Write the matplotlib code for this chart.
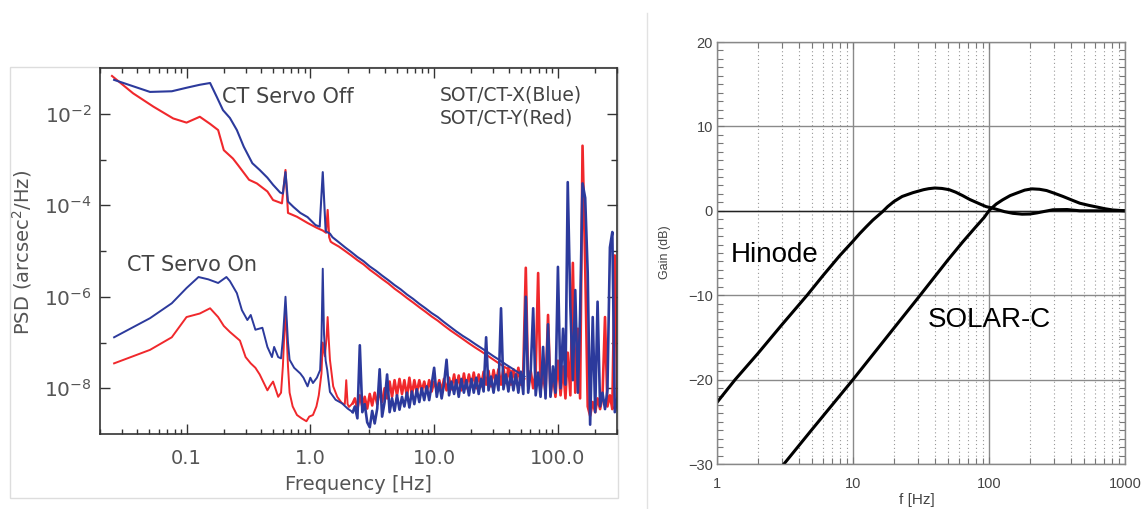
import numpy as np
import matplotlib
matplotlib.use("Agg")
import matplotlib.pyplot as plt
from matplotlib.ticker import FixedLocator, LogLocator, MultipleLocator, NullFormatter
from matplotlib.lines import Line2D
from matplotlib.patches import Rectangle

plt.rcParams['mathtext.default'] = 'regular'

# ---------------- left panel: SOT/CT pointing PSD ----------------
# CT servo off, X (blue)
off_x_f = [0.026, 0.035, 0.0507, 0.076, 0.10, 0.128, 0.155, 0.176, 0.197, 0.224,
           0.255, 0.29, 0.34, 0.39, 0.45, 0.50, 0.57, 0.60, 0.63, 0.66,
           0.73, 0.83, 0.95, 1.1, 1.19, 1.26, 1.33, 1.44]
off_x_psd = [5.5e-2, 4.2e-2, 3.0e-2, 3.1e-2, 3.7e-2, 4.3e-2, 4.7e-2, 2.3e-2, 1.2e-2, 8.1e-3,
             4.4e-3, 1.9e-3, 8.3e-4, 5.9e-4, 4.0e-4, 2.8e-4, 1.9e-4, 1.8e-4, 5.3e-4, 1.2e-4,
             9.2e-5, 6.8e-5, 5.5e-5, 3.7e-5, 3.4e-5, 5.3e-4, 2.7e-5, 2.4e-5]
# CT servo off, Y (red)
off_y_f = [0.025, 0.037, 0.054, 0.078, 0.10, 0.128, 0.155, 0.18, 0.20, 0.237,
           0.26, 0.32, 0.37, 0.45, 0.50, 0.59, 0.63, 0.66, 0.78, 0.95,
           1.13, 1.26, 1.34, 1.38, 1.42, 1.46]
off_y_psd = [6.7e-2, 2.8e-2, 1.43e-2, 7.9e-3, 6.4e-3, 8.6e-3, 6.0e-3, 4.4e-3, 1.6e-3, 1.05e-3,
             7.6e-4, 3.6e-4, 3.0e-4, 2.0e-4, 1.3e-4, 1.1e-4, 5.9e-4, 6.8e-5, 5.6e-5, 4.1e-5,
             3.2e-5, 2.8e-5, 2.5e-5, 7.9e-5, 2.0e-5, 1.6e-5]
# servo off high-frequency straight part (shared frequencies)
tail_f = [1.51, 1.70, 1.91, 2.14, 2.40, 2.69, 3.02, 3.39, 3.80, 4.27,
          4.79, 5.37, 6.03, 6.76, 7.59, 8.51, 9.55, 10.7, 12.0, 13.5,
          15.1, 17.0, 19.1, 21.4, 24.0, 26.9, 30.2, 33.9, 38.0, 42.7,
          47.9, 53.7]
tail_x_psd = [2.0e-5, 1.55e-5, 1.2e-5, 9.5e-6, 7.4e-6, 6.0e-6, 4.6e-6, 3.7e-6, 2.9e-6, 2.3e-6,
              1.8e-6, 1.45e-6, 1.12e-6, 9.0e-7, 7.0e-7, 5.6e-7, 4.4e-7, 3.6e-7, 2.8e-7, 2.2e-7,
              1.75e-7, 1.4e-7, 1.15e-7, 9.3e-8, 7.6e-8, 6.2e-8, 5.0e-8, 4.1e-8, 3.3e-8, 2.7e-8,
              2.2e-8, 1.8e-8]
tail_y_psd = [1.5e-5, 1.25e-5, 1.0e-5, 8.0e-6, 6.3e-6, 5.1e-6, 3.9e-6, 3.1e-6, 2.45e-6, 1.95e-6,
              1.5e-6, 1.2e-6, 9.4e-7, 7.5e-7, 5.9e-7, 4.7e-7, 3.7e-7, 3.0e-7, 2.35e-7, 1.85e-7,
              1.5e-7, 1.2e-7, 9.6e-8, 7.8e-8, 6.4e-8, 5.2e-8, 4.2e-8, 3.4e-8, 2.8e-8, 2.3e-8,
              1.9e-8, 1.6e-8]

# CT servo on, X (blue), low frequencies
on_x_f = [0.026, 0.0507, 0.076, 0.10, 0.125, 0.15, 0.18, 0.21, 0.224, 0.255,
          0.28, 0.31, 0.33, 0.36, 0.41, 0.45, 0.49, 0.51, 0.55, 0.58,
          0.60, 0.63, 0.66, 0.68, 0.74, 0.83, 0.88, 0.95, 1.0, 1.05,
          1.13, 1.2, 1.23, 1.26, 1.29, 1.33, 1.37, 1.44, 1.6, 1.8,
          2.0, 2.2]
on_x_psd = [1.3e-7, 3.4e-7, 7.2e-7, 1.55e-6, 2.7e-6, 2.4e-6, 2.0e-6, 2.7e-6, 2.2e-6, 1.2e-6,
            5.1e-7, 3.1e-7, 4.0e-7, 1.9e-7, 2.1e-7, 8.0e-8, 4.8e-8, 8.0e-8, 4.8e-8, 4.5e-8,
            1.2e-7, 1.0e-6, 1.0e-7, 4.2e-8, 2.8e-8, 2.1e-8, 1.7e-8, 1.1e-8, 1.7e-8, 1.3e-8,
            1.7e-8, 2.5e-8, 1.2e-7, 4.1e-6, 1.5e-7, 4.0e-8, 2.5e-8, 8.3e-9, 5.6e-9, 4.7e-9,
            3.6e-9, 3.0e-9]
# CT servo on, Y (red), low frequencies
on_y_f = [0.026, 0.0507, 0.076, 0.10, 0.128, 0.155, 0.18, 0.20, 0.224, 0.27,
          0.30, 0.33, 0.36, 0.39, 0.45, 0.47, 0.50, 0.55, 0.58, 0.60,
          0.63, 0.66, 0.68, 0.72, 0.78, 0.85, 0.93, 0.98, 1.05, 1.12,
          1.17, 1.23, 1.26, 1.31, 1.35, 1.38, 1.41, 1.44, 1.53, 1.65,
          1.8, 1.9, 1.95, 2.0, 2.05, 2.2]
on_y_psd = [3.5e-8, 6.9e-8, 1.3e-7, 3.6e-7, 4.3e-7, 5.6e-7, 3.6e-7, 2.3e-7, 1.7e-7, 1.1e-7,
            4.8e-8, 3.5e-8, 2.8e-8, 2.0e-8, 9.0e-9, 1.1e-8, 1.4e-8, 6.5e-9, 8.0e-9, 3.0e-8,
            6.0e-7, 3.0e-8, 8.0e-9, 4.0e-9, 2.6e-9, 2.2e-9, 1.9e-9, 2.4e-9, 2.6e-9, 4.0e-9,
            7.0e-9, 2.1e-8, 1.0e-7, 5.0e-8, 1.2e-7, 3.6e-7, 1.1e-7, 4.2e-8, 1.1e-8, 6.5e-9,
            4.7e-9, 4.5e-9, 1.5e-8, 4.5e-9, 3.9e-9, 4.7e-9]
# servo on noise floor above ~2 Hz (shared frequencies)
noise_f = [2.29, 2.40, 2.51, 2.63, 2.75, 2.88, 3.02, 3.16, 3.31, 3.47,
           3.63, 3.80, 3.98, 4.17, 4.37, 4.57, 4.79, 5.01, 5.25, 5.50,
           5.75, 6.03, 6.31, 6.61, 6.92, 7.24, 7.59, 7.94, 8.32, 8.71,
           9.12, 9.55, 10.0, 10.5, 11.0, 11.5, 12.0, 12.6, 13.2, 13.8,
           14.5, 15.1, 15.8, 16.6, 17.4, 18.2, 19.1, 20.0, 20.9, 21.9,
           22.9, 24.0, 25.1, 26.3, 27.5, 28.8, 30.2, 31.6, 33.1, 34.7,
           36.3, 38.0, 39.8, 41.7, 43.7, 45.7, 47.9, 50.1, 52.5, 55.0,
           57.5, 60.3, 63.1, 66.1, 69.2, 72.4, 75.9, 79.4, 83.2, 87.1,
           91.2, 95.5, 100, 105, 110, 115, 120, 126, 132, 138,
           145, 151, 158, 166, 174, 182, 191, 200, 209, 219,
           229, 240, 251, 263, 275, 288, 302]
noise_x_psd = [4.0e-9, 2.2e-9, 8.7e-8, 3.0e-9, 4.5e-9, 1.8e-9, 1.4e-9, 3.2e-9, 1.7e-9, 3.6e-9,
               2.6e-8, 2.4e-9, 5.0e-9, 2.0e-8, 3.0e-9, 6.0e-9, 3.2e-9, 7.0e-9, 3.4e-9, 6.5e-9,
               4.0e-9, 8.0e-9, 3.8e-9, 8.5e-9, 4.5e-9, 9.5e-9, 5.0e-9, 1.0e-8, 5.5e-9, 1.1e-8,
               5.5e-9, 1.2e-8, 2.8e-8, 6.5e-9, 1.3e-8, 6.0e-9, 1.2e-8, 4.2e-8, 7.0e-9, 1.4e-8,
               7.5e-9, 1.5e-8, 6.5e-9, 1.6e-8, 8.0e-9, 1.5e-8, 7.0e-9, 1.6e-8, 8.0e-9, 1.7e-8,
               7.5e-9, 1.6e-8, 8.5e-9, 1.3e-7, 9.0e-9, 1.8e-8, 8.0e-9, 1.9e-8, 9.0e-9, 5.6e-7,
               9.5e-9, 2.0e-8, 8.5e-9, 2.2e-8, 9.0e-9, 2.0e-8, 8.0e-9, 2.3e-8, 7.5e-9, 1.0e-6,
               8.0e-9, 2.5e-8, 5.6e-7, 7.0e-9, 2.2e-8, 6.5e-9, 8.0e-8, 6.0e-9, 2.5e-7, 6.5e-9,
               3.0e-8, 8.0e-9, 4.5e-6, 1.0e-8, 2.0e-7, 1.2e-8, 3.2e-4, 6.0e-7, 1.5e-8, 1.4e-6,
               8.0e-9, 4.0e-7, 3.0e-4, 1.45e-4, 3.3e-6, 1.6e-9, 3.6e-7, 3.0e-9, 7.8e-7, 4.0e-9,
               8.0e-9, 3.5e-9, 9.0e-9, 1.2e-5, 2.6e-5, 3.0e-9, 6.0e-9]
noise_y_psd = [6.0e-9, 3.5e-9, 7.0e-9, 4.0e-9, 6.5e-9, 3.6e-9, 7.5e-9, 4.2e-9, 8.0e-9, 4.5e-9,
               9.0e-9, 5.0e-9, 1.0e-8, 6.0e-9, 1.4e-8, 6.5e-9, 1.5e-8, 7.0e-9, 1.6e-8, 7.5e-9,
               1.5e-8, 6.5e-9, 1.7e-8, 7.0e-9, 1.5e-8, 8.0e-9, 1.5e-8, 8.5e-9, 1.4e-8, 8.0e-9,
               1.5e-8, 8.5e-9, 1.4e-8, 9.0e-9, 1.5e-8, 8.5e-9, 1.6e-8, 9.0e-9, 1.7e-8, 9.5e-9,
               2.0e-8, 1.0e-8, 1.9e-8, 9.0e-9, 2.1e-8, 1.0e-8, 2.0e-8, 1.1e-8, 2.2e-8, 1.0e-8,
               2.0e-8, 1.1e-8, 2.3e-8, 1.2e-8, 2.4e-8, 1.1e-8, 2.5e-8, 1.3e-8, 2.6e-8, 1.2e-8,
               2.7e-8, 1.3e-8, 2.8e-8, 1.2e-8, 2.6e-8, 1.3e-8, 2.8e-8, 1.2e-8, 2.5e-8, 4.3e-6,
               1.1e-8, 2.4e-8, 1.0e-8, 2.2e-8, 3.3e-6, 9.0e-9, 2.0e-8, 8.0e-9, 4.0e-7, 7.0e-9,
               2.0e-8, 6.5e-9, 4.0e-8, 7.0e-9, 3.0e-8, 6.0e-9, 6.0e-8, 7.0e-9, 5.5e-6, 8.0e-9,
               2.0e-7, 6.0e-9, 2.0e-3, 5.0e-6, 4.0e-9, 2.5e-9, 5.0e-9, 3.0e-9, 6.0e-9, 3.5e-9,
               6.5e-9, 3.6e-7, 4.0e-9, 7.0e-9, 3.5e-9, 8.0e-6, 5.0e-9]

psd_xticks = [0.1, 1.0, 10.0, 100.0]
psd_xlabels = ['0.1', '1.0', '10.0', '100.0']
psd_yticks = [1e-8, 1e-6, 1e-4, 1e-2]
psd_ylabels = [r'$10^{-8}$', r'$10^{-6}$', r'$10^{-4}$', r'$10^{-2}$']

# ---------------- right panel: servo gain curves ----------------
hinode_f = [1, 1.36, 2, 3, 4.6, 6, 8, 10, 11.2, 12.5,
            14, 16.5, 18, 20, 23, 27.6, 33, 36, 40, 45,
            51, 57, 64, 72, 86, 95, 107, 130, 150, 175,
            200, 225, 260, 295, 375, 465, 600, 1000]
hinode_db = [-22.7, -20.0, -16.9, -13.5, -10.0, -7.7, -5.3, -3.6, -2.7, -1.9,
             -1.1, -0.1, 0.5, 1.1, 1.7, 2.15, 2.5, 2.62, 2.7, 2.65,
             2.5, 2.2, 1.8, 1.35, 0.8, 0.5, 0.3, -0.1, -0.3, -0.4,
             -0.38, -0.25, -0.05, 0.12, 0.15, 0.0, 0.0, 0.0]
solarc_f = [3.0, 5, 10, 20, 30.5, 50, 64, 80, 92, 101,
            113, 126, 143, 160, 183, 207, 235, 265, 300, 350,
            410, 465, 540, 620, 710, 810, 1000]
solarc_db = [-30.3, -25.9, -20.0, -13.9, -10.2, -5.8, -3.7, -1.9, -0.8, 0.1,
             0.8, 1.3, 1.8, 2.1, 2.45, 2.6, 2.55, 2.4, 2.1, 1.7,
             1.25, 0.9, 0.65, 0.45, 0.25, 0.1, 0.0]
gain_xticks = [1, 10, 100, 1000]
gain_xlabels = ['1', '10', '100', '1000']
gain_yticks = [-30, -20, -10, 0, 10, 20]
gain_ylabels = ['\u221230', '\u221220', '\u221210', '0', '10', '20']

BLUE = '#2c3a9c'
RED = '#f0282c'
GREY_TXT = '#555555'

W, H = 1142, 509
fig = plt.figure(figsize=(W / 100, H / 100), dpi=100)

# faint screenshot frames
fig.add_artist(Rectangle((10 / W, 1 - 498 / H), 608 / W, 431 / H, transform=fig.transFigure,
                         fill=False, edgecolor='#dddddd', lw=1, zorder=0))
fig.add_artist(Line2D([647 / W, 647 / W], [1 - 13 / H, 0], transform=fig.transFigure,
                      color='#e2e2e2', lw=1, zorder=0))

# ---- left axes
ax1 = fig.add_axes([100 / W, 1 - 434 / H, 517 / W, 366 / H])
ax1.set_xscale('log')
ax1.set_yscale('log')

# reds first, blues on top; the noisy floor is drawn a bit heavier
ax1.plot(off_y_f + tail_f, off_y_psd + tail_y_psd, color=RED, lw=1.5)
ax1.plot(on_y_f, on_y_psd, color=RED, lw=1.4)
ax1.plot(on_y_f[-1:] + noise_f, on_y_psd[-1:] + noise_y_psd, color=RED, lw=1.9)
ax1.plot(off_x_f + tail_f, off_x_psd + tail_x_psd, color=BLUE, lw=1.5)
ax1.plot(on_x_f, on_x_psd, color=BLUE, lw=1.4)
ax1.plot(on_x_f[-1:] + noise_f, on_x_psd[-1:] + noise_x_psd, color=BLUE, lw=1.9)

ax1.set_xlim(0.02, 300)
ax1.set_ylim(1e-9, 1e-1)
ax1.set_xticks(psd_xticks)
ax1.set_xticklabels(psd_xlabels)
ax1.xaxis.set_minor_locator(LogLocator(base=10, subs=np.arange(2, 10), numticks=20))
ax1.xaxis.set_minor_formatter(NullFormatter())
ax1.set_yticks(psd_yticks)
ax1.set_yticklabels(psd_ylabels)
ax1.yaxis.set_minor_locator(FixedLocator([1e-7, 1e-5, 1e-3]))
ax1.yaxis.set_minor_formatter(NullFormatter())

ax1.tick_params(which='both', direction='in', top=True, right=True, color='#333333', width=1.0)
ax1.tick_params(which='major', length=7)
ax1.tick_params(axis='x', which='minor', length=3.5)
ax1.tick_params(axis='y', which='minor', length=4.5)
ax1.tick_params(axis='x', which='major', pad=11, labelsize=14, labelcolor=GREY_TXT)
ax1.tick_params(axis='y', which='major', pad=6, labelsize=14.5, labelcolor=GREY_TXT)
for sp in ax1.spines.values():
    sp.set_color('#333333')
    sp.set_linewidth(1.2)

ax1.set_xlabel('Frequency [Hz]', fontsize=14, color=GREY_TXT, va='center')
ax1.xaxis.set_label_coords(0.5, -0.139)
ax1.set_ylabel('PSD (arcsec$^2$/Hz)', fontsize=14, color=GREY_TXT, va='center')
ax1.yaxis.set_label_coords(-0.151, 0.497)

ax1.text(0.236, 0.921, 'CT Servo Off', transform=ax1.transAxes, fontsize=15,
         color='#444444', va='center', ha='left')
ax1.text(0.052, 0.462, 'CT Servo On', transform=ax1.transAxes, fontsize=15,
         color='#444444', va='center', ha='left')
ax1.text(0.658, 0.926, 'SOT/CT-X(Blue)', transform=ax1.transAxes, fontsize=13.5,
         color='#444444', va='center', ha='left')
ax1.text(0.658, 0.863, 'SOT/CT-Y(Red)', transform=ax1.transAxes, fontsize=13.5,
         color='#444444', va='center', ha='left')

# ---- right axes
ax2 = fig.add_axes([717 / W, 1 - 464 / H, 408 / W, 422 / H])
ax2.set_xscale('log')
ax2.set_xlim(1, 1000)
ax2.set_ylim(-30, 20)
ax2.set_axisbelow(True)
ax2.grid(which='major', color='#8a8a8a', lw=1.0)
ax2.grid(which='minor', axis='x', color='#999999', lw=0.8, linestyle=(0, (1, 2.5)))
ax2.axhline(0, color='#222222', lw=1.0)

ax2.plot(hinode_f, hinode_db, color='black', lw=2.2)
ax2.plot(solarc_f, solarc_db, color='black', lw=2.2)

ax2.set_xticks(gain_xticks)
ax2.set_xticklabels(gain_xlabels, fontfamily='Liberation Sans')
ax2.xaxis.set_minor_locator(LogLocator(base=10, subs=np.arange(2, 10), numticks=20))
ax2.xaxis.set_minor_formatter(NullFormatter())
ax2.set_yticks(gain_yticks)
ax2.set_yticklabels(gain_ylabels, fontfamily='Liberation Sans')
ax2.yaxis.set_minor_locator(MultipleLocator(1))
ax2.tick_params(which='both', direction='in', top=True, right=True, color='#777777', width=0.8)
ax2.tick_params(which='major', length=5)
ax2.tick_params(which='minor', length=4)
ax2.tick_params(axis='x', which='major', pad=9, labelsize=10.5, labelcolor='#444444')
ax2.tick_params(axis='y', which='major', pad=3, labelsize=10.5, labelcolor='#444444')
for sp in ax2.spines.values():
    sp.set_color('#888888')
    sp.set_linewidth(1.0)

fig.text(917 / W, 1 - 500 / H, 'f [Hz]', fontsize=11, family='Liberation Sans',
         color='#444444', ha='center', va='center')
fig.text(665 / W, 1 - 252 / H, 'Gain (dB)', fontsize=9, family='Liberation Sans',
         color='#444444', ha='center', va='center', rotation=90)

ax2.text(0.034, 0.495, 'Hinode', transform=ax2.transAxes, fontsize=20,
         family='Liberation Sans', color='black', va='center', ha='left')
ax2.text(0.517, 0.341, 'SOLAR-C', transform=ax2.transAxes, fontsize=20,
         family='Liberation Sans', color='black', va='center', ha='left')

fig.savefig('out.png', dpi=100, facecolor='white')
